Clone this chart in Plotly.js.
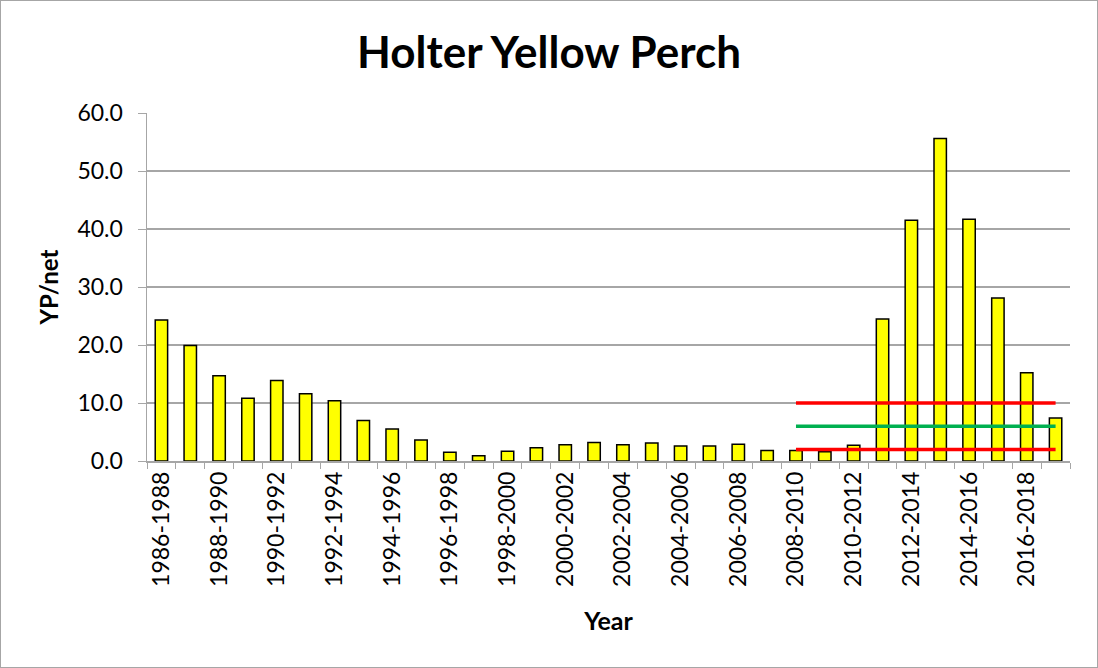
<!DOCTYPE html>
<html>
<head>
<meta charset="utf-8">
<script src="https://cdn.plot.ly/plotly-3.0.1.min.js"></script>
<style>
  html, body { margin: 0; padding: 0; background: #fff; }
  #wrap { position: relative; width: 1098px; height: 668px; }
  #chart { width: 1098px; height: 668px; }
  #frame { position: absolute; left: 0; top: 0; width: 1098px; height: 668px; box-sizing: border-box; border: 1px solid #a6a6a6; pointer-events: none; }
</style>
</head>
<body>
<div id="wrap"><div id="chart"></div><div id="frame"></div></div>
<script>
const periods = ["1986-1988","1987-1989","1988-1990","1989-1991","1990-1992","1991-1993","1992-1994","1993-1995",
  "1994-1996","1995-1997","1996-1998","1997-1999","1998-2000","1999-2001","2000-2002","2001-2003",
  "2002-2004","2003-2005","2004-2006","2005-2007","2006-2008","2007-2009","2008-2010","2009-2011",
  "2010-2012","2011-2013","2012-2014","2013-2015","2014-2016","2015-2017","2016-2018","2017-2019"];
const ypPerNet = [24.3,19.9,14.7,10.8,13.9,11.6,10.4,7.0,
  5.5,3.6,1.5,0.9,1.7,2.3,2.8,3.2,
  2.8,3.1,2.6,2.6,2.9,1.8,1.8,1.6,
  2.7,24.5,41.5,55.6,41.7,28.1,15.2,7.4];
const refPeriods = ["2008-2010","2009-2011","2010-2012","2011-2013","2012-2014","2013-2015","2014-2016","2015-2017","2016-2018","2017-2019"];
const upperLimit = [10,10,10,10,10,10,10,10,10,10];
const targetMid = [6,6,6,6,6,6,6,6,6,6];
const lowerLimit = [2,2,2,2,2,2,2,2,2,2];
const tickLabels = periods.map((p, i) => i % 2 === 0 ? p : "");

const font = "Lato, 'Open Sans', sans-serif";

const traces = [
  { type: "bar", x: periods, y: ypPerNet, marker: { color: "#ffff00", line: { color: "#000000", width: 1.5 } }, hoverinfo: "x+y" },
  { type: "scatter", mode: "lines", x: refPeriods, y: upperLimit, line: { color: "#ff0000", width: 3.5 } },
  { type: "scatter", mode: "lines", x: refPeriods, y: targetMid, line: { color: "#00b050", width: 3.5 } },
  { type: "scatter", mode: "lines", x: refPeriods, y: lowerLimit, line: { color: "#ff0000", width: 3.5 } }
];

const layout = {
  width: 1098, height: 668,
  margin: { l: 147, r: 28, t: 113, b: 207 },
  paper_bgcolor: "#ffffff", plot_bgcolor: "#ffffff",
  showlegend: false,
  bargap: 0.57,
  font: { family: font, color: "#000000" },
  title: { text: "<b>Holter Yellow Perch</b>", font: { family: font, size: 44, color: "#000" }, x: 0.5, xanchor: "center", y: 0.922, yanchor: "middle" },
  xaxis: {
    type: "category", categoryorder: "array", categoryarray: periods,
    range: [-0.5, 31.5],
    tickmode: "array", tickvals: periods, ticktext: tickLabels,
    tickson: "boundaries", ticks: "outside", ticklen: 6, tickcolor: "#a6a6a6", tickwidth: 1,
    tickangle: -90, tickfont: { family: font, size: 23, color: "#000" },
    showline: true, linecolor: "#a6a6a6", linewidth: 1.5,
    showgrid: false, zeroline: false,
    title: { text: "<b>Year</b>", font: { family: font, size: 25, color: "#000" }, standoff: 26 }
  },
  yaxis: {
    range: [0, 60], tickmode: "array", tickvals: [0,10,20,30,40,50,60],
    tickformat: ".1f", ticks: "outside", ticklen: 8, tickcolor: "#a6a6a6",
    ticklabelstandoff: 10,
    tickfont: { family: font, size: 23, color: "#000" },
    showline: true, linecolor: "#a6a6a6", linewidth: 1.5,
    showgrid: true, gridcolor: "#a6a6a6", gridwidth: 1.5, zeroline: false,
    title: { text: "<b>YP/net</b>", font: { family: font, size: 24, color: "#000" }, standoff: 12 }
  }
};

Plotly.newPlot("chart", traces, layout, { displayModeBar: false, staticPlot: true });
</script>
</body>
</html>
